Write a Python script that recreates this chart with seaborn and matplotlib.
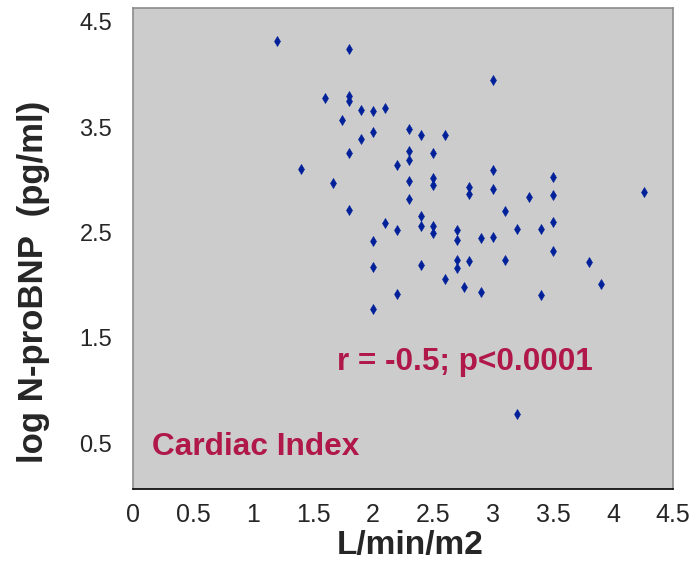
import matplotlib
matplotlib.use("Agg")
import matplotlib.pyplot as plt
import seaborn as sns
import pandas as pd

# Cardiac index (L/min/m2) against log N-proBNP (pg/ml)
cardiac_index = [
    1.2, 1.8, 1.6, 1.8, 1.8, 1.9, 2.0, 2.1, 1.74, 2.0, 1.9, 2.3, 1.8, 1.4,
    1.67, 2.2, 2.3, 2.3, 2.3, 2.3, 1.8, 2.1, 2.2, 2.0, 3.0, 2.4, 2.6, 2.5,
    3.0, 2.5, 2.5, 2.8, 2.8, 3.0, 3.5, 3.3, 3.5, 4.26, 2.4, 2.4, 2.5, 2.5,
    2.7, 2.7, 2.9, 3.0, 3.1, 3.2, 3.4, 3.5, 3.5, 2.0, 2.2, 2.0, 2.4, 2.7,
    2.7, 2.8, 3.1, 3.8, 2.6, 2.76, 2.9, 3.4, 3.9, 3.2,
]
log_ntprobnp = [
    4.32, 4.24, 3.78, 3.80, 3.75, 3.66, 3.655, 3.686, 3.57, 3.455, 3.386,
    3.484, 3.253, 3.10, 2.974, 3.139, 3.278, 3.192, 2.987, 2.822, 2.715,
    2.588, 2.528, 2.42, 3.949, 3.424, 3.424, 3.253, 3.094, 3.016, 2.949,
    2.93, 2.867, 2.917, 3.028, 2.841, 2.854, 2.888, 2.655, 2.56, 2.56,
    2.493, 2.528, 2.433, 2.449, 2.455, 2.708, 2.537, 2.537, 2.598, 2.322,
    2.17, 1.914, 1.777, 2.192, 2.243, 2.164, 2.233, 2.24, 2.221, 2.062,
    1.983, 1.939, 1.905, 2.009, 0.777,
]
x_ticks = [0, 0.5, 1, 1.5, 2, 2.5, 3, 3.5, 4, 4.5]
x_tick_labels = ["0", "0.5", "1", "1.5", "2", "2.5", "3", "3.5", "4", "4.5"]
y_ticks = [0.5, 1.5, 2.5, 3.5, 4.5]
y_tick_labels = ["0.5", "1.5", "2.5", "3.5", "4.5"]

df = pd.DataFrame({"ci": cardiac_index, "nt": log_ntprobnp})

sns.set_style("white")
plt.rcParams["font.family"] = ["Liberation Sans", "DejaVu Sans"]

fig = plt.figure(figsize=(6.91, 5.67), dpi=100)
ax = fig.add_axes([133 / 691, 1 - 489 / 567, 540 / 691, 481 / 567])
ax.set_facecolor("#cccccc")

sns.scatterplot(data=df, x="ci", y="nt", ax=ax, marker="d", s=26,
                color="#00209a", edgecolor="#00209a", linewidth=0.4)

ax.set_xlim(0, 4.5)
ax.set_ylim(0.063, 4.633)
ax.set_xticks(x_ticks)
ax.set_xticklabels(x_tick_labels, fontsize=18)
ax.set_yticks(y_ticks)
ax.set_yticklabels(y_tick_labels, fontsize=17)

ax.tick_params(axis="x", direction="out", length=4, width=1.3,
               color="black", pad=6)
ax.tick_params(axis="y", length=0, pad=15)

for side in ("left", "top", "right"):
    ax.spines[side].set_color("#8c8c8c")
    ax.spines[side].set_linewidth(1.2)
ax.spines["bottom"].set_color("black")
ax.spines["bottom"].set_linewidth(1.2)

ax.set_xlabel("L/min/m2", fontsize=24, fontweight="bold")
ax.xaxis.set_label_coords(0.513, -0.086)
ax.set_ylabel("log N-proBNP  (pg/ml)", fontsize=25, fontweight="bold")
ax.yaxis.set_label_coords(-0.154, 0.43)

accent = "#b0184a"
ax.text(0.378, 0.247, "r = -0.5; p<0.0001", transform=ax.transAxes,
        fontsize=22.7, fontweight="bold", color=accent, va="baseline", ha="left")
ax.text(0.035, 0.071, "Cardiac Index", transform=ax.transAxes,
        fontsize=22.8, fontweight="bold", color=accent, va="baseline", ha="left")

fig.savefig("out.png", dpi=100)
